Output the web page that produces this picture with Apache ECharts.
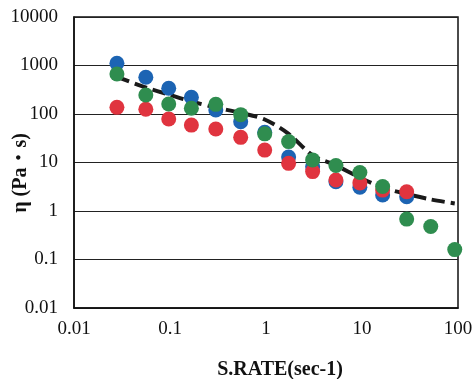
<!DOCTYPE html>
<html>
<head>
<meta charset="utf-8">
<script src="https://cdn.jsdelivr.net/npm/echarts@6/dist/echarts.min.js"></script>
<style>
  html, body { margin: 0; padding: 0; background: #fff; }
  #chart { width: 474px; height: 379px; }
</style>
</head>
<body>
<div id="chart"></div>
<script>
// shear rate (sec-1) at each measuring step
const rates = [0.028, 0.056, 0.097, 0.167, 0.30, 0.545, 0.97, 1.72, 3.06, 5.35, 9.5, 16.4, 29.2, 52, 92.5];

// viscosity (Pa·s) per sample
const blueVals = [1110, 571, 339, 221, 121, 69, 42, 13, 8.2, 4.0, 3.1, 2.14, 1.97];
const redVals = [137, 125, 79, 59, 49, 33, 18, 9.6, 6.5, 4.35, 3.8, 2.7, 2.5];
const greenVals = [668, 247, 161, 131, 158, 97, 39, 27, 11.3, 8.7, 6.2, 3.2, 0.68, 0.48, 0.16];
const dashVals = [580, 352, 252, 181, 136, 105, 77, 39, 14, 8.7, 4.9, 3.05, 2.24, 1.73, 1.43];

const serif = '"Liberation Serif", "Noto Serif CJK JP", "Noto Sans CJK JP", serif';

function pairs(vals) {
  return vals.map((v, i) => [rates[i], v]);
}

function fmt(value) {
  if (value >= 1) return String(Math.round(value));
  return String(+value.toPrecision(1));
}

const chart = echarts.init(document.getElementById('chart'));

const dotSeries = (name, vals, color) => ({
  name,
  type: 'scatter',
  data: pairs(vals),
  symbolSize: 15,
  itemStyle: { color, opacity: 1 },
  z: 3,
});

chart.setOption({
  animation: false,
  grid: {
    left: 74,
    right: 16,
    top: 17,
    bottom: 71,
    outerBoundsMode: 'none',
    containLabel: false,
    show: true,
    borderColor: '#111',
    borderWidth: 1.5,
  },
  xAxis: {
    type: 'log',
    logBase: 10,
    min: 0.01,
    max: 100,
    splitNumber: 4,
    name: 'S.RATE(sec-1)',
    nameLocation: 'middle',
    nameMoveOverlap: false,
    nameGap: 52,
    nameTextStyle: {
      fontFamily: serif,
      fontWeight: 'bold',
      fontSize: 20,
      color: '#111',
      padding: [0, 0, 0, 28],
    },
    axisLine: { show: true, lineStyle: { color: '#111', width: 1.5 } },
    axisTick: { show: false },
    minorTick: { show: false },
    splitLine: { show: false },
    axisLabel: {
      fontFamily: serif,
      fontSize: 19,
      color: '#111',
      margin: 12,
      formatter: fmt,
    },
  },
  yAxis: {
    type: 'log',
    logBase: 10,
    min: 0.01,
    max: 10000,
    splitNumber: 6,
    name: 'η (Pa・s)',
    nameLocation: 'middle',
    nameMoveOverlap: false,
    nameGap: 43,
    nameTextStyle: {
      fontFamily: serif,
      fontWeight: 'bold',
      fontSize: 20,
      color: '#111',
      padding: [0, 21, 0, 0],
    },
    axisLine: { show: true, lineStyle: { color: '#111', width: 1.5 } },
    axisTick: { show: false },
    minorTick: { show: false },
    splitLine: { show: true, lineStyle: { color: '#222', width: 1.2 } },
    axisLabel: {
      fontFamily: serif,
      fontSize: 19,
      color: '#111',
      margin: 16,
      formatter: fmt,
    },
  },
  series: [
    {
      name: 'fit',
      type: 'line',
      data: pairs(dashVals),
      smooth: 0.3,
      showSymbol: false,
      lineStyle: { color: '#1a1a1a', width: 4, type: [13, 6] },
      z: 2,
    },
    dotSeries('blue', blueVals, '#1c64b3'),
    dotSeries('red', redVals, '#e0343f'),
    dotSeries('green', greenVals, '#2f8d4f'),
  ],
});
</script>
</body>
</html>
